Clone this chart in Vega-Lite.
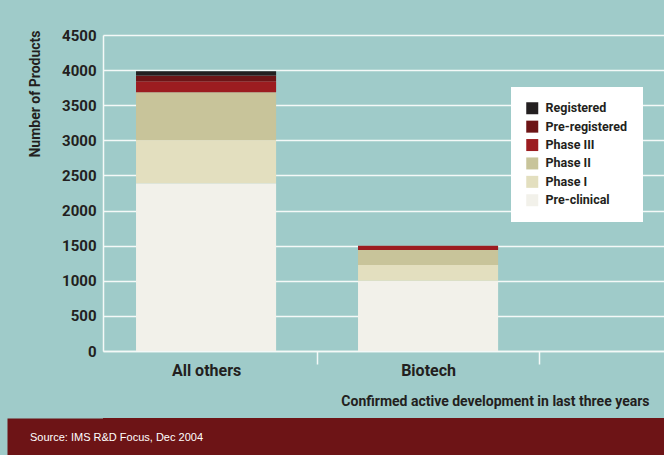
{
  "$schema": "https://vega.github.io/schema/vega-lite/v6.json",
  "background": "#9fcbc9",
  "padding": {"left": 7, "top": 28, "right": 0, "bottom": 0},
  "spacing": 9,
  "resolve": {"scale": {"color": "independent"}},
  "config": {
    "view": {"stroke": null},
    "font": "Roboto"
  },
  "vconcat": [
    {
      "width": 561,
      "height": 316,
      "data": {
        "values": [
          {"group": "All others", "phase": "Pre-clinical", "stage": 1, "count": 2390},
          {"group": "All others", "phase": "Phase I", "stage": 2, "count": 610},
          {"group": "All others", "phase": "Phase II", "stage": 3, "count": 685},
          {"group": "All others", "phase": "Phase III", "stage": 4, "count": 155},
          {"group": "All others", "phase": "Pre-registered", "stage": 5, "count": 85},
          {"group": "All others", "phase": "Registered", "stage": 6, "count": 60},
          {"group": "Biotech", "phase": "Pre-clinical", "stage": 1, "count": 1000},
          {"group": "Biotech", "phase": "Phase I", "stage": 2, "count": 225},
          {"group": "Biotech", "phase": "Phase II", "stage": 3, "count": 215},
          {"group": "Biotech", "phase": "Phase III", "stage": 4, "count": 55},
          {"group": "Biotech", "phase": "Pre-registered", "stage": 5, "count": 4},
          {"group": "Biotech", "phase": "Registered", "stage": 6, "count": 1}
        ]
      },
      "mark": {"type": "bar", "strokeWidth": 0},
      "encoding": {
        "x": {
          "field": "group",
          "type": "nominal",
          "scale": {"domain": ["All others", "Biotech"], "paddingInner": 0.369, "paddingOuter": 0.448, "align": 0.166},
          "axis": {
            "title": "Confirmed active development in last three years",
            "titleFont": "Roboto",
            "titleFontSize": 14,
            "titleFontWeight": "bold",
            "titleColor": "#231f20",
            "titleX": 546,
            "titleY": 54.5,
            "titleAlign": "right",
            "titleBaseline": "alphabetic",
            "labelAngle": 0,
            "labelFont": "Roboto",
            "labelFontSize": 16,
            "labelFontWeight": "bold",
            "labelColor": "#231f20",
            "labelPadding": -2,
            "bandPosition": 1,
            "tickOffset": 41,
            "labelOffset": -41,
            "tickSize": 13,
            "tickColor": "#f4f9f8",
            "tickWidth": 1.5,
            "domainColor": "#f4f9f8",
            "domainWidth": 1.5,
            "grid": false
          }
        },
        "y": {
          "field": "count",
          "type": "quantitative",
          "stack": "zero",
          "scale": {"domain": [0, 4500], "nice": false},
          "axis": {
            "values": [0, 500, 1000, 1500, 2000, 2500, 3000, 3500, 4000, 4500],
            "format": "d",
            "title": "Number of Products",
            "titleFont": "Roboto",
            "titleFontSize": 14,
            "titleFontWeight": "bold",
            "titleColor": "#231f20",
            "titleX": -68,
            "titleY": -5,
            "titleAngle": 270,
            "titleAlign": "right",
            "titleBaseline": "middle",
            "minExtent": 96,
            "labelFont": "Roboto",
            "labelFontSize": 15,
            "labelFontWeight": "bold",
            "labelColor": "#231f20",
            "labelPadding": 7,
            "ticks": false,
            "domainColor": "#f4f9f8",
            "domainWidth": 1.5,
            "grid": true,
            "gridColor": "#f4f9f8",
            "gridWidth": 1.5
          }
        },
        "color": {
          "field": "phase",
          "type": "nominal",
          "scale": {
            "domain": ["Registered", "Pre-registered", "Phase III", "Phase II", "Phase I", "Pre-clinical"],
            "range": ["#231f20", "#6d1416", "#9c1c20", "#c8c49a", "#e3dfbf", "#f2f1ea"]
          },
          "legend": {
            "orient": "none",
            "legendX": 408,
            "legendY": 52,
            "title": null,
            "fillColor": "#ffffff",
            "padding": 15,
            "symbolType": "square",
            "symbolSize": 144,
            "symbolStrokeWidth": 0,
            "labelFont": "Roboto",
            "labelFontSize": 12.5,
            "labelFontWeight": "bold",
            "labelColor": "#231f20",
            "labelOffset": 7,
            "rowPadding": 5.4
          }
        },
        "order": {"field": "stage", "type": "quantitative"}
      }
    },
    {
      "width": 561,
      "height": 37,
      "view": {"fill": "#6d1416", "stroke": null},
      "title": {
        "text": "Source:  IMS R&D Focus, Dec 2004",
        "orient": "top",
        "anchor": "start",
        "offset": -25,
        "dx": -25,
        "zindex": 2,
        "font": "Liberation Sans",
        "fontSize": 11,
        "fontWeight": "normal",
        "color": "#ffffff"
      },
      "data": {"values": [{"note": "Source:  IMS R&D Focus, Dec 2004"}]},
      "mark": {"type": "rect", "color": "#6d1416"},
      "encoding": {
        "y": {
          "field": "note",
          "type": "nominal",
          "scale": {"paddingInner": 0, "paddingOuter": 0},
          "axis": {
            "title": null,
            "labels": false,
            "ticks": false,
            "grid": false,
            "zindex": 0,
            "offset": 48,
            "domainColor": "#6d1416",
            "domainWidth": 96,
            "domainCap": "butt"
          }
        }
      }
    }
  ]
}
